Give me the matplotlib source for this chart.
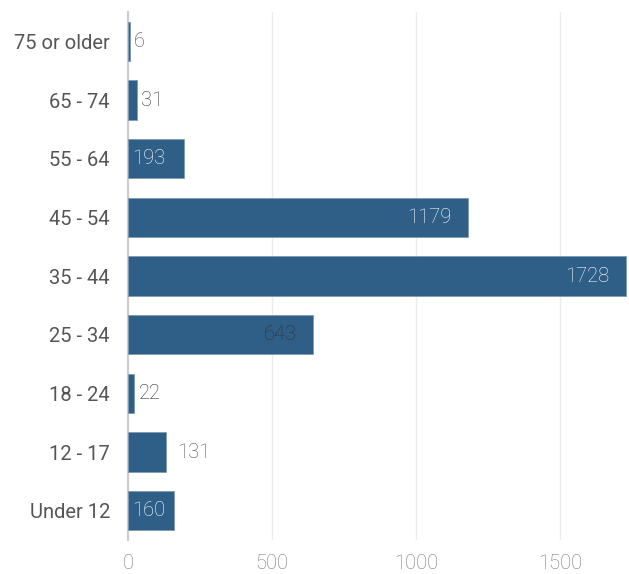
import matplotlib.pyplot as plt

plt.rcParams["font.family"] = ["Roboto", "DejaVu Sans"]

categories = ["75 or older", "65 - 74", "55 - 64", "45 - 54", "35 - 44",
              "25 - 34", "18 - 24", "12 - 17", "Under 12"]
counts = [6, 31, 193, 1179, 1728, 643, 22, 131, 160]
# label placement as it appears in the chart: (where, colour)
label_place = ["out", "out", "in_left", "in_right", "in_right",
               "in_right", "out", "out_far", "in_left"]
label_color = ["#4a4a4a", "#333333", "white", "white", "white",
               "#333333", "#2a2a2a", "#555555", "white"]
x_ticks = [0, 500, 1000, 1500]

BAR = "#2f5e87"
FS = 14.5

fig = plt.figure(figsize=(6.29, 5.74), dpi=100)
ax = fig.add_axes([0.2035, 0.059, 0.7935, 0.92])

y = list(range(len(categories)))
ax.barh(y, counts, height=0.67, color=BAR, edgecolor="#7f9bb5", linewidth=0.6, zorder=3)

for yi, v, place, col in zip(y, counts, label_place, label_color):
    if place == "out":
        xy, off, ha = (v, yi), 3, "left"
    elif place == "out_far":
        xy, off, ha = (v, yi), 8, "left"
    elif place == "in_left":
        xy, off, ha = (0, yi), 3, "left"
    else:
        xy, off, ha = (v, yi), -12, "right"
    ax.annotate(str(v), xy, xytext=(off, 0), textcoords="offset points",
                ha=ha, va="center", color=col, fontsize=FS, fontweight="light", zorder=4)

ax.set_ylim(len(categories) - 0.5, -0.5)
ax.set_xlim(0, 1732)
ax.set_yticks(y)
ax.set_yticklabels(categories, fontsize=FS, color="#555555")
ax.set_xticks(x_ticks)
ax.set_xticklabels([str(t) for t in x_ticks], fontsize=FS, color="#777777", fontweight="light")
ax.tick_params(axis="both", length=0)
ax.tick_params(axis="y", pad=13)
ax.tick_params(axis="x", pad=10)

ax.grid(axis="x", color="#ebebeb", linewidth=1, zorder=0)
ax.set_axisbelow(True)
for side in ("top", "right", "bottom"):
    ax.spines[side].set_visible(False)
ax.spines["left"].set_color("#cccccc")
ax.spines["left"].set_linewidth(1.5)

fig.savefig("out.png", dpi=100)
